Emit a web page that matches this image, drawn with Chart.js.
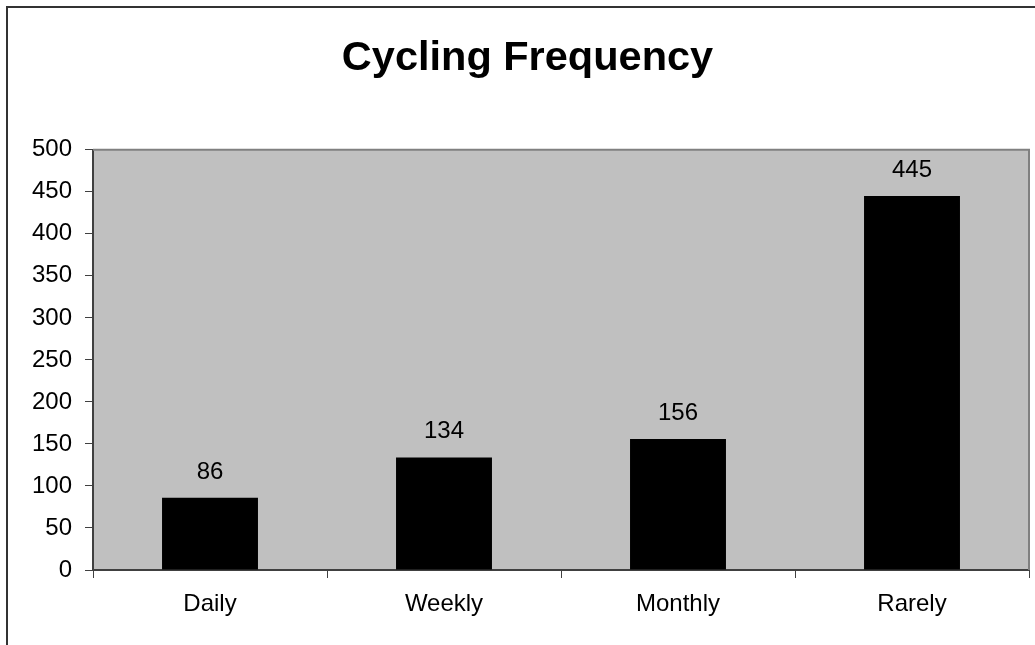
<!DOCTYPE html>
<html>
<head>
<meta charset="utf-8">
<script src="https://cdn.jsdelivr.net/npm/chart.js@4"></script>
<style>
  html, body { margin: 0; padding: 0; background: #fff; }
  canvas { display: block; }
</style>
</head>
<body>
<canvas id="freqChart" width="1035" height="645"></canvas>
<script>
// ---- data ----
const categories = ['Daily', 'Weekly', 'Monthly', 'Rarely'];
const counts = [86, 134, 156, 445];
const yTicks = [0, 50, 100, 150, 200, 250, 300, 350, 400, 450, 500];

const FONT = "'Liberation Sans', Arial, sans-serif";

// gray plot background + frame + outer chart border
const framePlugin = {
    id: 'frame',
    beforeDraw(chart) {
        const { ctx, chartArea: a } = chart;
        ctx.save();
        ctx.fillStyle = '#c0c0c0';
        ctx.fillRect(a.left, a.top, a.right - a.left, a.bottom - a.top);
        ctx.restore();
    },
    afterDraw(chart) {
        const { ctx, chartArea: a } = chart;
        ctx.save();
        // top + right border of plot area
        ctx.strokeStyle = '#808080';
        ctx.lineWidth = 2;
        ctx.beginPath();
        ctx.moveTo(a.left, a.top);
        ctx.lineTo(a.right, a.top);
        ctx.lineTo(a.right, a.bottom);
        ctx.stroke();
        // outer chart border (runs off the right/bottom edge)
        ctx.strokeStyle = '#333333';
        ctx.lineWidth = 2;
        ctx.beginPath();
        ctx.moveTo(7, chart.height);
        ctx.lineTo(7, 7);
        ctx.lineTo(chart.width, 7);
        ctx.stroke();
        ctx.restore();
    }
};

// value labels above bars
const valueLabels = {
    id: 'valueLabels',
    afterDatasetsDraw(chart) {
        const { ctx } = chart;
        const meta = chart.getDatasetMeta(0);
        ctx.save();
        ctx.fillStyle = '#000';
        ctx.font = '24px ' + FONT;
        ctx.textAlign = 'center';
        ctx.textBaseline = 'alphabetic';
        meta.data.forEach((bar, i) => {
            ctx.fillText(String(counts[i]), bar.x, bar.y - 19);
        });
        ctx.restore();
    }
};

new Chart(document.getElementById('freqChart'), {
    type: 'bar',
    data: {
        labels: categories,
        datasets: [{
            data: counts,
            backgroundColor: '#000000',
            borderWidth: 0,
            barPercentage: 0.41,
            categoryPercentage: 1
        }]
    },
    options: {
        responsive: false,
        animation: false,
        layout: { padding: { left: 26, right: 6, top: 0, bottom: 0 } },
        plugins: {
            legend: { display: false },
            tooltip: { enabled: false },
            title: {
                display: true,
                text: 'Cycling Frequency',
                color: '#000',
                font: { family: FONT, size: 41.5, weight: 'bold' },
                padding: { top: 34, bottom: 66 }
            }
        },
        scales: {
            x: {
                grid: {
                    drawOnChartArea: false,
                    drawTicks: true,
                    tickLength: 8,
                    color: '#404040',
                    offset: true
                },
                border: { color: '#404040', width: 2 },
                ticks: {
                    color: '#000',
                    padding: 12,
                    font: { family: FONT, size: 24 }
                },
                afterFit(scale) { scale.height = 75; }
            },
            y: {
                min: 0,
                max: 500,
                afterBuildTicks(scale) {
                    scale.ticks = yTicks.map(v => ({ value: v }));
                },
                grid: {
                    drawOnChartArea: false,
                    drawTicks: true,
                    tickLength: 8,
                    color: '#404040'
                },
                border: { color: '#404040', width: 2 },
                ticks: {
                    color: '#000',
                    padding: 13,
                    font: { family: FONT, size: 24 }
                },
                afterFit(scale) { scale.width = 67; }
            }
        }
    },
    plugins: [framePlugin, valueLabels]
});
</script>
</body>
</html>
